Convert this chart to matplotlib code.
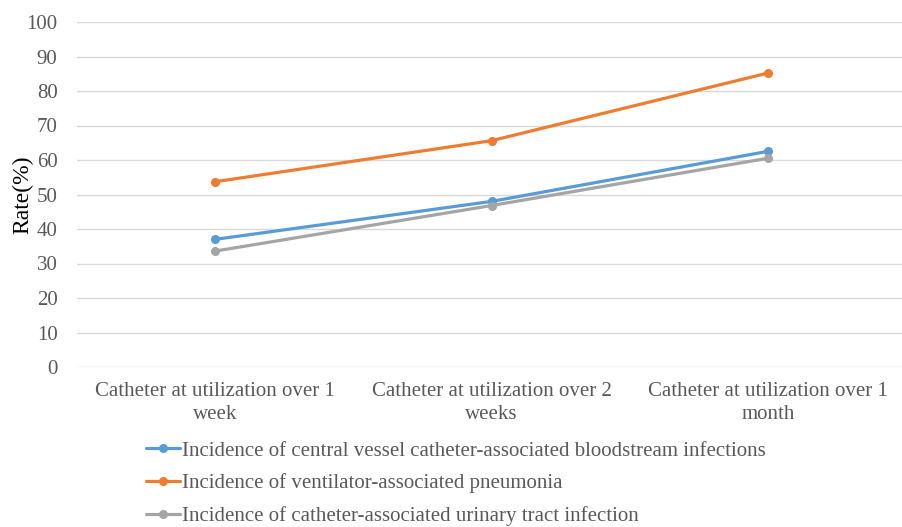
import matplotlib.pyplot as plt

# data
categories = ["Catheter at utilization over 1\nweek",
              "Catheter at utilization over 2\nweeks",
              "Catheter at utilization over 1\nmonth"]
bloodstream = [37.0, 48.0, 62.5]
pneumonia = [53.7, 65.6, 85.2]
urinary = [33.6, 46.8, 60.5]
series_names = ["Incidence of central vessel catheter-associated bloodstream infections",
                "Incidence of ventilator-associated pneumonia",
                "Incidence of catheter-associated urinary tract infection"]
yticks = list(range(0, 101, 10))

plt.rcParams['font.family'] = ['Liberation Serif', 'DejaVu Serif']
text_col = '#595959'
fs = 15

fig = plt.figure(figsize=(9.02, 5.27), dpi=100)
ax = fig.add_axes([77 / 902, 1 - 367 / 527, 829 / 902, 345 / 527])

x = range(len(categories))
colors = ['#5B9BD5', '#ED7D31', '#A5A5A5']
for vals, name, c in zip([bloodstream, pneumonia, urinary], series_names, colors):
    ax.plot(x, vals, color=c, lw=2.3, marker='o', ms=5.5, label=name,
            solid_capstyle='round')

ax.set_xlim(-0.5, len(categories) - 0.5)
ax.set_ylim(0, 100)
ax.set_yticks(yticks)
ax.set_xticks(list(x))
ax.set_xticklabels(categories, fontsize=fs, color=text_col, linespacing=1.25)
ax.tick_params(axis='y', labelsize=fs, labelcolor=text_col, length=0, pad=14)
ax.tick_params(axis='x', length=0, pad=11)
ax.grid(axis='y', color='#D9D9D9', lw=1)
ax.set_axisbelow(True)
for s in ax.spines.values():
    s.set_visible(False)
ax.set_ylabel("Rate(%)", fontsize=17, color='black', labelpad=-5)

# legend sits under the axes, its last row right at the bottom edge
leg = fig.legend(loc='upper left', bbox_to_anchor=(146 / 902, 1 - 441 / 527),
                 frameon=False, fontsize=fs, handlelength=1.65, handletextpad=0.1,
                 labelspacing=0.62, borderaxespad=0, borderpad=0)
for t in leg.get_texts():
    t.set_color(text_col)

fig.savefig("out.png", dpi=100)
